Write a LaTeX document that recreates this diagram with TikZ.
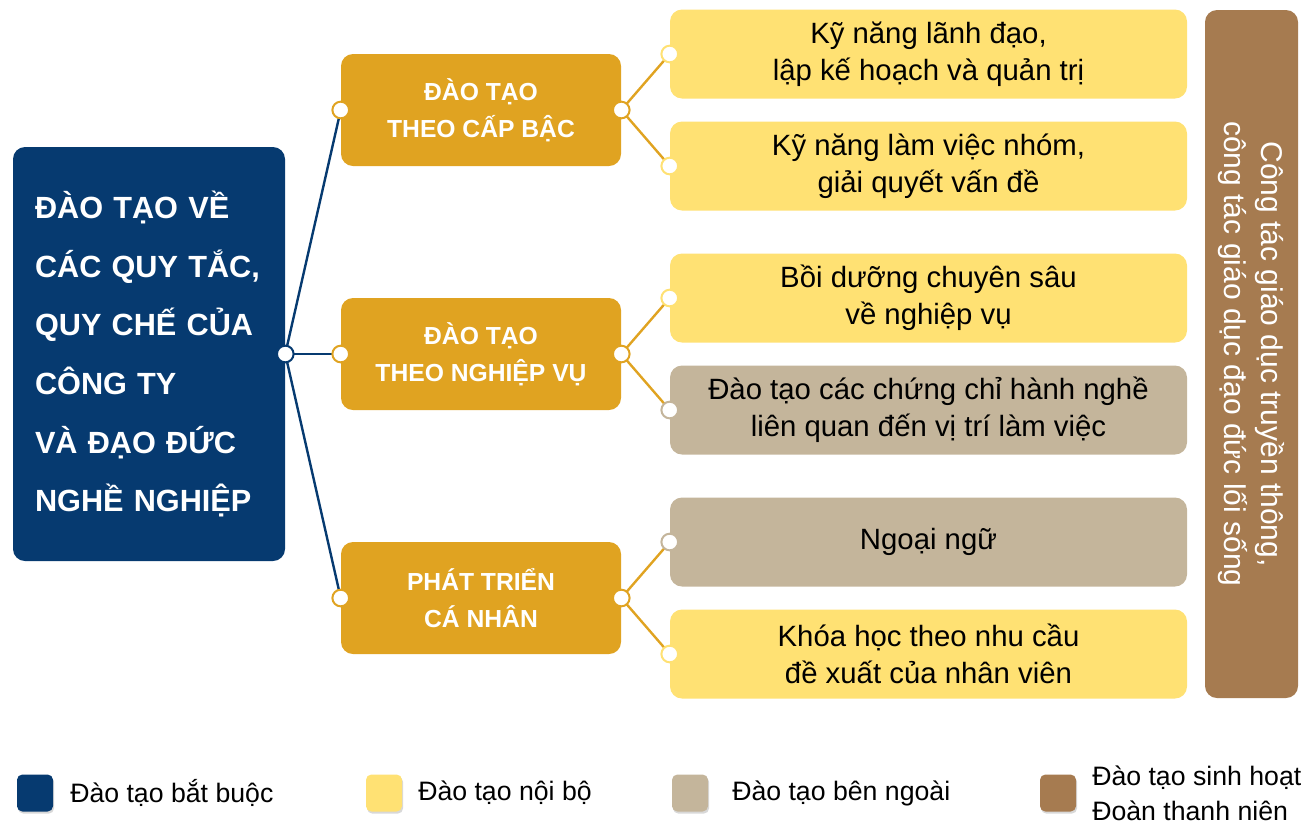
\documentclass[tikz,border=0pt]{standalone}
\usepackage{fontspec}
\setmainfont{Liberation Sans}
\usetikzlibrary{positioning,shadows}

\definecolor{navy}{RGB}{6,58,112}
\definecolor{gold}{RGB}{224,163,33}
\definecolor{lightyel}{RGB}{255,225,115}
\definecolor{beige}{RGB}{196,181,155}
\definecolor{brownish}{RGB}{166,123,80}

\begin{document}
\begin{tikzpicture}[
  x=0.75pt, y=-0.75pt,
  mainbox/.style={rounded corners=9pt, fill=navy, text=white, minimum width=204pt, minimum height=310.5pt,
    text width=171pt, align=left, inner sep=0pt, font=\fontsize{23}{44}\selectfont\bfseries},
  group/.style={rounded corners=9pt, fill=gold, text=white, minimum width=210pt, minimum height=84pt,
    align=center, font=\fontsize{18.5}{28}\selectfont\bfseries},
  item/.style={rounded corners=9pt, minimum width=387.75pt, minimum height=66.75pt,
    align=center, font=\fontsize{22}{28}\selectfont},
  sidebox/.style={rounded corners=9pt, fill=brownish, text=white, minimum width=516pt, minimum height=69.75pt,
    rotate=-90, align=center, font=\fontsize{22.5}{28}\selectfont},
  dot/.style={circle, fill=white, draw=#1, line width=1.5pt, minimum size=12.5pt, inner sep=0pt},
  key/.style={rounded corners=4pt, fill=#1, minimum width=27pt, minimum height=27.75pt,
    drop shadow={shadow xshift=0.8pt, shadow yshift=-1.6pt, fill=black!30}},
  keytext/.style={anchor=west, inner sep=0pt, align=left, font=\fontsize{20}{26}\selectfont},
  link/.style={line width=1.8pt}
]
\useasboundingbox (0,0) rectangle (1305,826);

% main block
\node[mainbox] (main) at (149,354) {ĐÀO TẠO VỀ\\CÁC QUY TẮC,\\QUY CHẾ CỦA\\CÔNG TY\\VÀ ĐẠO ĐỨC\\NGHỀ NGHIỆP};

% groups
\node[group] (g1) at (481,110) {ĐÀO TẠO\\THEO CẤP BẬC};
\node[group] (g2) at (481,354) {ĐÀO TẠO\\THEO NGHIỆP VỤ};
\node[group] (g3) at (481,598) {PHÁT TRIỂN\\CÁ NHÂN};

% items
\node[item, fill=lightyel] (i1) at (928.5,54) {Kỹ năng lãnh đạo,\\lập kế hoạch và quản trị};
\node[item, fill=lightyel] (i2) at (928.5,166) {Kỹ năng làm việc nhóm,\\giải quyết vấn đề};
\node[item, fill=lightyel] (i3) at (928.5,298) {Bồi dưỡng chuyên sâu\\về nghiệp vụ};
\node[item, fill=beige] (i4) at (928.5,410) {Đào tạo các chứng chỉ hành nghề\\liên quan đến vị trí làm việc};
\node[item, fill=beige] (i5) at (928.5,542) {Ngoại ngữ};
\node[item, fill=lightyel] (i6) at (928.5,654) {Khóa học theo nhu cầu\\đề xuất của nhân viên};

\node[sidebox] (side) at (1251.5,354) {Công tác giáo dục truyền thông,\\công tác giáo dục đạo đức lối sống};

% connectors
\draw[link, navy] (main.east) -- (g1.west);
\draw[link, navy] (main.east) -- (g2.west);
\draw[link, navy] (main.east) -- (g3.west);
\draw[link, gold] (g1.east) -- (i1.west);
\draw[link, gold] (g1.east) -- (i2.west);
\draw[link, gold] (g2.east) -- (i3.west);
\draw[link, gold] (g2.east) -- (i4.west);
\draw[link, gold] (g3.east) -- (i5.west);
\draw[link, gold] (g3.east) -- (i6.west);

% dots
\node[dot=navy] (d0) at (main.east) {};
\foreach \g in {g1,g2,g3} {
  \node[dot=gold] at (\g.west) {};
  \node[dot=gold] at (\g.east) {};
}
\foreach \i in {i1,i2,i3,i6} \node[dot=lightyel] at (\i.west) {};
\foreach \i in {i4,i5} \node[dot=beige] at (\i.west) {};

% legend
\node[key=navy] (k1) at (35,793) {};
\node[keytext] (t1) at (70,793) {Đào tạo bắt buộc};
\node[key=lightyel] (k2) at (384,793) {};
\node[keytext] (t2) at (418,793) {Đào tạo nội bộ};
\node[key=beige] (k3) at (690,793) {};
\node[keytext] (t3) at (732,793) {Đào tạo bên ngoài};
\node[key=brownish] (k4) at (1058,793) {};
\node[keytext] (t4) at (1092,793) {Đào tạo sinh hoạt\\Đoàn thanh niên};
\end{tikzpicture}
\end{document}
